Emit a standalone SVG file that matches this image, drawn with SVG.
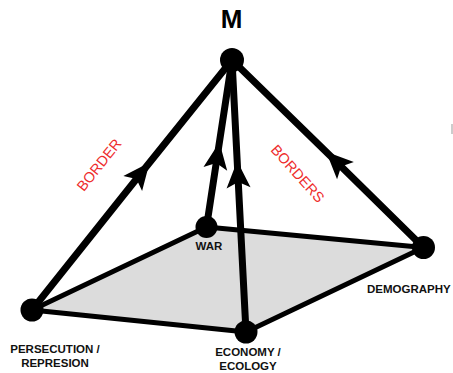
<svg xmlns="http://www.w3.org/2000/svg" width="453" height="373" viewBox="0 0 453 373">
  <style>
    .edge { fill: none; stroke: #000; stroke-width: 7; stroke-linecap: round; }
    .node { fill: #000; }
    .lbl { font-family: "Liberation Sans", Arial, sans-serif; font-weight: bold; font-size: 11.5px; fill: #111; text-anchor: middle; }
    .start { text-anchor: start; }
    .red { font-family: "Liberation Sans", Arial, sans-serif; font-size: 14.5px; fill: #ee2c2c; text-anchor: middle; }
  </style>
  <defs>
    <marker id="arr" markerUnits="userSpaceOnUse" markerWidth="44" markerHeight="44" viewBox="-22 -22 44 44" refX="0" refY="0" orient="auto">
      <path d="M16,0 L-11,-12 L-5,0 L-11,12 Z" fill="#000"/>
    </marker>
  </defs>
  <rect width="453" height="373" fill="#fff"/>
  <g id="base">
    <polygon points="32,310 206.5,227 423.5,247.5 246,332" fill="#dcdcdc" stroke="#000" stroke-width="5" stroke-linejoin="round"/>
  </g>
  <g id="connectors">
    <path class="edge" d="M32,310 L139.6,175 L232,60" marker-mid="url(#arr)"/>
    <path class="edge" d="M423.5,247.5 L337.6,162.9 L232,60" marker-mid="url(#arr)"/>
    <path class="edge" d="M206.5,227 L217,158 L232,60" marker-mid="url(#arr)"/>
    <path class="edge" d="M246,332 L238,177 L232,60" marker-mid="url(#arr)"/>
  </g>
  <g id="node-M">
    <circle class="node" cx="232" cy="60" r="12"/>
    <text x="231.5" y="28" font-family="Liberation Sans, Arial, sans-serif" font-weight="bold" font-size="26" text-anchor="middle">M</text>
  </g>
  <g id="node-persecution">
    <circle class="node" cx="32" cy="310" r="11.5"/>
    <text class="lbl" x="55" y="353">PERSECUTION /</text>
    <text class="lbl" x="55" y="367">REPRESION</text>
  </g>
  <g id="node-war">
    <circle class="node" cx="206.5" cy="227" r="11"/>
    <text class="lbl" x="209" y="250">WAR</text>
  </g>
  <g id="node-demography">
    <circle class="node" cx="423.5" cy="247.5" r="11.5"/>
    <text class="lbl start" x="367" y="293">DEMOGRAPHY</text>
  </g>
  <g id="node-economy">
    <circle class="node" cx="246" cy="332" r="11.5"/>
    <text class="lbl" x="248" y="356">ECONOMY /</text>
    <text class="lbl" x="248" y="369.5">ECOLOGY</text>
  </g>
  <g id="edge-labels">
    <text class="red" transform="translate(103,168) rotate(-51.5)">BORDER</text>
    <text class="red" transform="translate(294,177) rotate(48)">BORDERS</text>
  </g>
  <line x1="452" y1="124" x2="452" y2="134" stroke="#999" stroke-width="1"/>
</svg>
